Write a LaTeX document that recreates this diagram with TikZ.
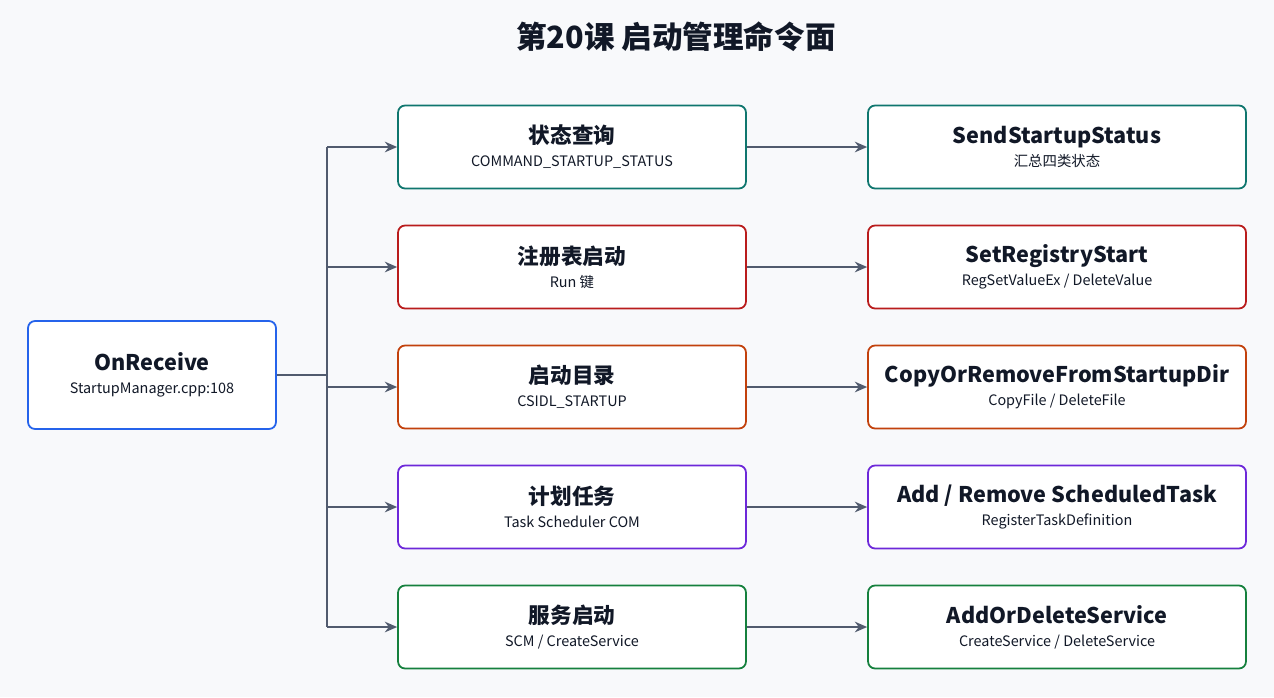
\documentclass[tikz,border=0pt]{standalone}
\usepackage{fontspec}
\setmainfont{Noto Sans CJK SC}
\usetikzlibrary{arrows.meta}
\usetikzlibrary{positioning}
\definecolor{cteal}{HTML}{0F766E}
\definecolor{cred}{HTML}{B91C1C}
\definecolor{corange}{HTML}{C2410C}
\definecolor{cpurple}{HTML}{6D28D9}
\definecolor{cgreen}{HTML}{15803D}
\definecolor{cblue}{HTML}{2563EB}
\definecolor{cline}{HTML}{515B6E}
\definecolor{ctext}{HTML}{111827}
\definecolor{cbg}{HTML}{F8F9FB}

\begin{document}
\begin{tikzpicture}[
    x=0.02cm, y=-0.02cm,
    >={Stealth[length=7pt,width=6pt]},
    box/.style={draw, line width=1pt, fill=white, rounded corners=4pt, align=center, text=ctext, inner sep=0pt},
    mblock/.style={box, minimum width=6.96cm, minimum height=1.66cm},
    rblock/.style={box, minimum width=7.56cm, minimum height=1.66cm},
    lblock/.style={box, minimum width=4.96cm, minimum height=2.16cm},
    conn/.style={->, draw=cline, line width=1.6pt}
]
    \fill[cbg] (0,0) rectangle (1274,697);
    \node[font=\bfseries\fontsize{17.4}{20}\selectfont, text=ctext] (title) at (676,37) {第20课 启动管理命令面};

    % source
    \node[lblock, draw=cblue] (recv) at (152,375)
        {{\bfseries\fontsize{12.3}{14}\selectfont OnReceive}\\[1pt]{\fontsize{8.2}{10}\selectfont StartupManager.cpp:108}};
    \coordinate (split) at (327,375);
    \draw[draw=cline, line width=1.6pt] (recv.east) -- (split);
    \draw[draw=cline, line width=1.6pt] (327,147) -- (327,627);

    % branches
    \foreach \i/\col/\mt/\ms/\rt/\rs in {
        0/cteal/{状态查询}/{COMMAND\_STARTUP\_STATUS}/{SendStartupStatus}/{汇总四类状态},
        1/cred/{注册表启动}/{Run 键}/{SetRegistryStart}/{RegSetValueEx / DeleteValue},
        2/corange/{启动目录}/{CSIDL\_STARTUP}/{CopyOrRemoveFromStartupDir}/{CopyFile / DeleteFile},
        3/cpurple/{计划任务}/{Task Scheduler COM}/{Add / Remove ScheduledTask}/{RegisterTaskDefinition},
        4/cgreen/{服务启动}/{SCM / CreateService}/{AddOrDeleteService}/{CreateService / DeleteService}} {
        \node[mblock, draw=\col] (mid\i) at (572,147+120*\i)
            {{\bfseries\fontsize{12.3}{14}\selectfont \mt}\\[1pt]{\fontsize{8.2}{10}\selectfont \ms}};
        \node[rblock, draw=\col] (res\i) at (1057,147+120*\i)
            {{\bfseries\fontsize{12.3}{14}\selectfont \rt}\\[1pt]{\fontsize{8.2}{10}\selectfont \rs}};
        \coordinate (tap\i) at (327,147+120*\i);
        \draw[conn] (tap\i) -- (mid\i.west);
        \draw[conn] (mid\i.east) -- (res\i.west);
    }
\end{tikzpicture}
\end{document}
